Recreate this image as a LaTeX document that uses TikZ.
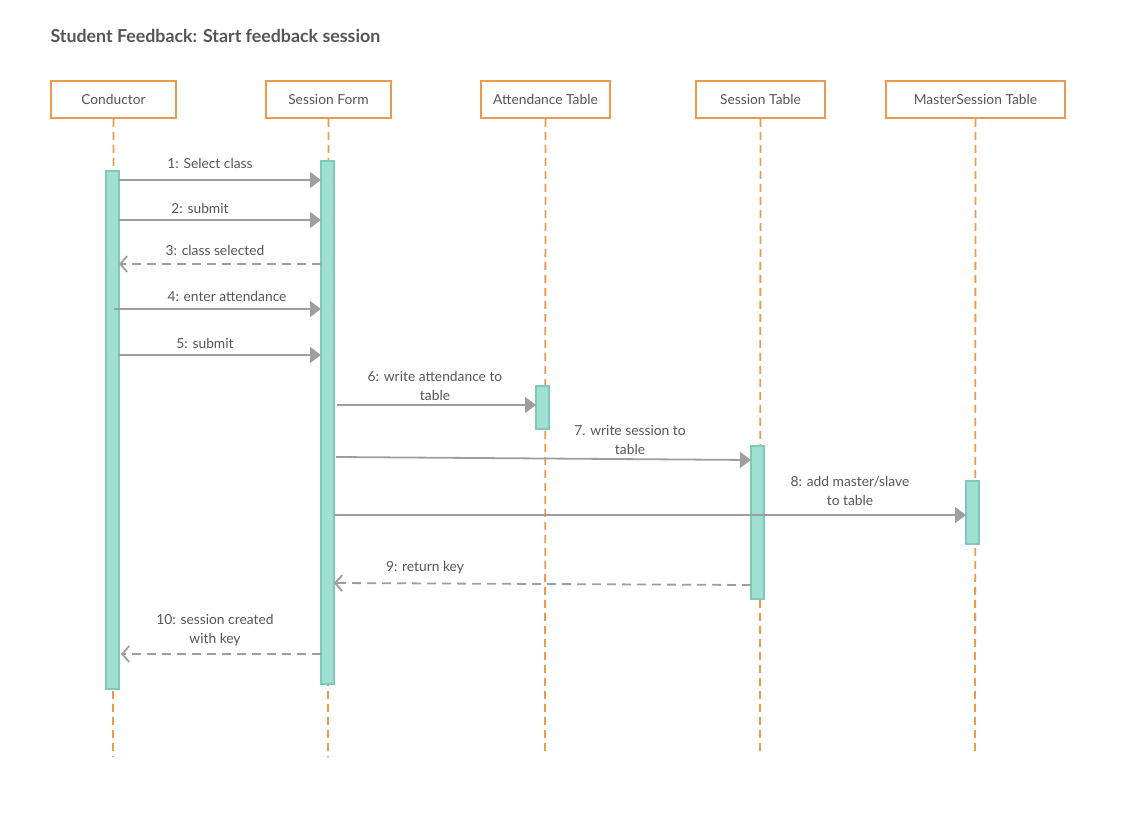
\documentclass[tikz,border=0pt]{standalone}
\usepackage{fontspec}
\setmainfont{Lato}
\usetikzlibrary{arrows.meta}
\definecolor{org}{HTML}{EE9A4D}
\definecolor{tfill}{HTML}{A0E0D3}
\definecolor{tdraw}{HTML}{7ECAB8}
\definecolor{arr}{HTML}{9E9E9E}
\definecolor{txt}{HTML}{555555}
\begin{document}
\begin{tikzpicture}[x=1pt,y=-1pt,
  head/.style={draw=org,line width=1.8pt,fill=white,minimum height=37pt,text=txt,font=\fontsize{13.8}{16}\selectfont,inner sep=0pt},
  life/.style={draw=org,line width=1.8pt,dash pattern=on 8pt off 5pt},
  act/.style={draw=tdraw,fill=tfill,line width=1.8pt},
  msg/.style={draw=arr,line width=1.8pt,-{Triangle[length=11pt,width=16pt]}},
  ret/.style={draw=arr,line width=1.8pt,dash pattern=on 9pt off 6pt,-{Straight Barb[length=7pt,width=16pt,line width=1.8pt]}},
  lbl/.style={text=txt,font=\fontsize{13.8}{19}\selectfont,align=center,inner sep=0pt}]
\useasboundingbox (0,0) rectangle (1135,813);
\node[anchor=west,text=txt,font=\fontsize{17.8}{20}\selectfont\bfseries] (title) at (47,36) {Student Feedback: Start feedback session};
% lifelines
\coordinate (l1e) at (113,757);
\coordinate (l2e) at (328,757);
\coordinate (l3e) at (545,752);
\coordinate (l4e) at (760,755);
\coordinate (l5e) at (975,755);
\node[head,minimum width=125pt] (h1) at (113.5,99.5) {Conductor};
\node[head,minimum width=125pt] (h2) at (328.5,99.5) {Session Form};
\node[head,minimum width=129pt] (h3) at (545.5,99.5) {Attendance Table};
\node[head,minimum width=129pt] (h4) at (760.5,99.5) {Session Table};
\node[head,minimum width=179pt] (h5) at (975.5,99.5) {MasterSession Table};
\draw[life] (h1.south) -- (l1e);
\draw[life] (h2.south) -- (l2e);
\draw[life] (h3.south) -- (l3e);
\draw[life] (h4.south) -- (l4e);
\draw[life] (h5.south) -- (l5e);
% activations
\path[act] (106,171) rectangle (119,689);
\path[act] (321,161) rectangle (334,684);
\path[act] (536,386) rectangle (549,429);
\path[act] (751,446) rectangle (764,599);
\path[act] (966,481) rectangle (979,544);
\coordinate (m1s) at (119,180); \coordinate (m1e) at (321,180);
\coordinate (m2s) at (119,220); \coordinate (m2e) at (321,220);
\coordinate (m3s) at (321,264); \coordinate (m3e) at (119,264);
\coordinate (m4s) at (114,309); \coordinate (m4e) at (321,309);
\coordinate (m5s) at (119,355); \coordinate (m5e) at (321,355);
\coordinate (m6s) at (337,405); \coordinate (m6e) at (536,405);
\coordinate (m7s) at (336,457); \coordinate (m7e) at (751,460);
\coordinate (m8s) at (334,515); \coordinate (m8e) at (966,515);
\coordinate (m9s) at (751,585); \coordinate (m9e) at (334,583);
\coordinate (m10s) at (321,654); \coordinate (m10e) at (121,654);
\draw[msg] (m1s) -- (m1e);
\draw[msg] (m2s) -- (m2e);
\draw[ret] (m3s) -- (m3e);
\draw[msg] (m4s) -- (m4e);
\draw[msg] (m5s) -- (m5e);
\draw[msg] (m6s) -- (m6e);
\draw[msg] (m7s) -- (m7e);
\draw[msg] (m8s) -- (m8e);
\draw[ret] (m9s) -- (m9e);
\draw[ret] (m10s) -- (m10e);
\node[lbl] (t1) at (210,163) {1: Select class};
\node[lbl] (t2) at (200,208) {2: submit};
\node[lbl] (t3) at (215,250) {3: class selected};
\node[lbl] (t4) at (227,296) {4: enter attendance};
\node[lbl] (t5) at (205,343) {5: submit};
\node[lbl] (t6) at (435,385.5) {6: write attendance to\\table};
\node[lbl] (t7) at (630,440.5) {7. write session to\\table};
\node[lbl] (t8) at (850,490.5) {8: add master/slave\\to table};
\node[lbl] (t9) at (425,568) {9: return key};
\node[lbl] (t10) at (215,630.5) {10: session created\\with key};
\end{tikzpicture}
\end{document}
